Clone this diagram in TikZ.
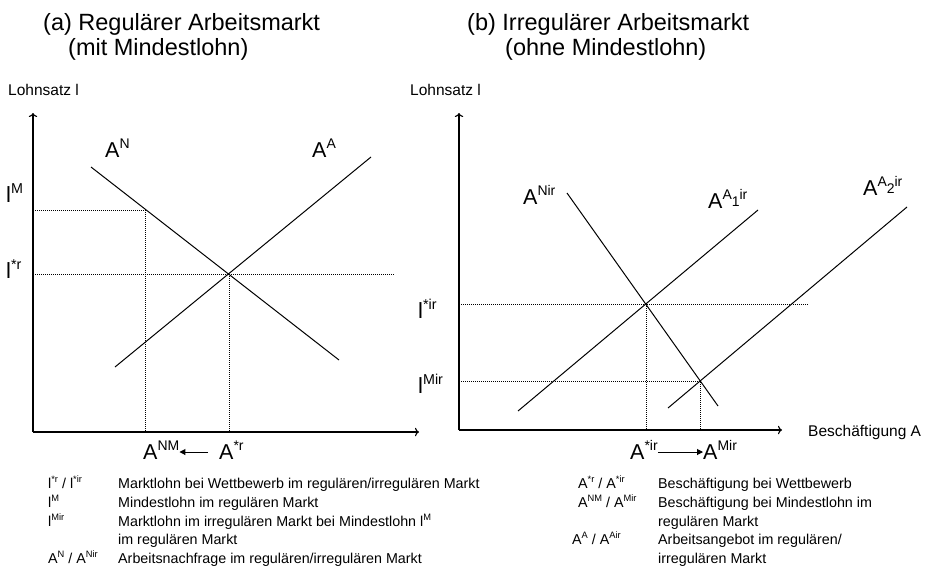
\documentclass[tikz,border=0pt]{standalone}
\usepackage{fontspec}
\setmainfont{Liberation Sans}
\usetikzlibrary{arrows.meta}

\makeatletter
\newcommand{\up}[1]{\raisebox{0.38em}{\fontsize{\fpeval{0.65*\f@size}}{\fpeval{0.75*\f@size}}\selectfont #1}}
\newcommand{\dn}[1]{\raisebox{-0.5em}{#1}}
\makeatother

\tikzset{
  axis/.style={line width=1.1pt,->},
  curve/.style={line width=1pt},
  guide/.style={line width=0.7pt,dash pattern=on 1pt off 1pt},
  movearrow/.style={line width=1pt,-{Triangle[length=6pt,width=6pt]}},
  title/.style={font=\fontsize{23.5}{27}\selectfont,inner sep=0pt,anchor=base west},
  biglabel/.style={font=\fontsize{21.5}{26}\selectfont,inner sep=0pt,anchor=base west},
  wage/.style={font=\fontsize{22}{26}\selectfont,inner sep=0pt,anchor=base west},
  axlabel/.style={font=\fontsize{15.5}{18}\selectfont,inner sep=0pt,anchor=west},
  legend/.style={font=\fontsize{14.3}{17}\selectfont,inner sep=0pt,anchor=base west}
}

\begin{document}
\begin{tikzpicture}[x=1pt,y=-1pt]
\useasboundingbox (0,0) rectangle (931,576);

% Titles
\node[title] (ta1) at (43,30) {(a) Regulärer Arbeitsmarkt};
\node[title] (ta2) at (68,55) {(mit Mindestlohn)};
\node[title] (tb1) at (467,30) {(b) Irregulärer Arbeitsmarkt};
\node[title] (tb2) at (505,55) {(ohne Mindestlohn)};

% ---------- (a) regular market ----------
\coordinate (Oa) at (33,432);
\coordinate (Ya) at (33,113);
\coordinate (Xa) at (419,432);
\draw[axis] (Oa) -- (Ya);
\draw[axis] (Oa) -- (Xa);
\node[axlabel] (lya) at (8,90) {Lohnsatz l};

% demand and supply
\coordinate (Na1) at (91,167);
\coordinate (Na2) at (339,360);
\coordinate (Sa1) at (115,367);
\coordinate (Sa2) at (371,157);
\draw[curve] (Na1) -- (Na2);
\draw[curve] (Sa1) -- (Sa2);

% equilibrium and minimum wage
\coordinate (Ea) at (229,274);
\coordinate (Ma) at (145,210);
\draw[guide] (Oa |- Ea) -- (Ea) -- (395,274);
\draw[guide] (Ea) -- (Ea |- Oa);
\draw[guide] (Oa |- Ma) -- (Ma) -- (Ma |- Oa);

\node[biglabel] (an) at (105,157) {A\up{N}};
\node[biglabel] (aa) at (312,157) {A\up{A}};
\node[wage] (lm) at (6,202) {l\up{M}};
\node[wage] (lr) at (6,278) {l\up{*r}};
\node[biglabel] (anm) at (143,459) {A\up{NM}};
\node[biglabel] (ar) at (219,459) {A\up{*r}};
\draw[movearrow] (ar.west |- 0,452) ++(-11,0) coordinate (sa) -- (anm.east |- sa);

% ---------- (b) irregular market ----------
\coordinate (Ob) at (459,430);
\coordinate (Yb) at (459,113);
\coordinate (Xb) at (782,430);
\draw[axis] (Ob) -- (Yb);
\draw[axis] (Ob) -- (Xb);
\node[axlabel] (lyb) at (410,90) {Lohnsatz l};
\node[axlabel] (lxb) at (808,432) {Beschäftigung A};

% demand and two supply curves
\coordinate (Nb1) at (567,193);
\coordinate (Nb2) at (718,406);
\coordinate (Sb1) at (518,411);
\coordinate (Sb2) at (758,210);
\coordinate (Tb1) at (668,408);
\coordinate (Tb2) at (907,207);
\draw[curve] (Nb1) -- (Nb2);
\draw[curve] (Sb1) -- (Sb2);
\draw[curve] (Tb1) -- (Tb2);

% equilibria
\coordinate (Eb) at (646,304);
\coordinate (Mb) at (700,381);
\draw[guide] (Ob |- Eb) -- (Eb) -- (808,304);
\draw[guide] (Eb) -- (Eb |- Ob);
\draw[guide] (Ob |- Mb) -- (Mb) -- (Mb |- Ob);

\node[biglabel] (anir) at (523,204) {A\up{Nir}};
\node[biglabel] (aa1) at (708,208) {A\up{A\dn{1}ir}};
\node[biglabel] (aa2) at (863,195) {A\up{A\dn{2}ir}};
\node[wage] (lir) at (418,318) {l\up{*ir}};
\node[wage] (lmir) at (418,393) {l\up{Mir}};
\node[biglabel] (air) at (630,459) {A\up{*ir}};
\node[biglabel] (amir) at (703,459) {A\up{Mir}};
\draw[movearrow] (air.east |- 0,452) coordinate (sb) -- (amir.west |- sb);

% ---------- legend ----------
\node[legend] (k1) at (48,488) {l\up{*r} / l\up{*ir}};
\node[legend] (d1) at (118,488) {Marktlohn bei Wettbewerb im regulären/irregulären Markt};
\node[legend] (k2) at (48,507) {l\up{M}};
\node[legend] (d2) at (118,507) {Mindestlohn im regulären Markt};
\node[legend] (k3) at (48,526) {l\up{Mir}};
\node[legend] (d3) at (118,526) {Marktlohn im irregulären Markt bei Mindestlohn l\up{M}};
\node[legend] (d3b) at (118,544) {im regulären Markt};
\node[legend] (k4) at (48,563) {A\up{N} / A\up{Nir}};
\node[legend] (d4) at (118,563) {Arbeitsnachfrage im regulären/irregulären Markt};

\node[legend] (k5) at (578,488) {A\up{*r} / A\up{*ir}};
\node[legend] (d5) at (658,488) {Beschäftigung bei Wettbewerb};
\node[legend] (k6) at (578,507) {A\up{NM} / A\up{Mir}};
\node[legend] (d6) at (658,507) {Beschäftigung bei Mindestlohn im};
\node[legend] (d6b) at (658,526) {regulären Markt};
\node[legend] (k7) at (572,544) {A\up{A} / A\up{Air}};
\node[legend] (d7) at (658,544) {Arbeitsangebot im regulären/};
\node[legend] (d7b) at (658,563) {irregulären Markt};

\end{tikzpicture}
\end{document}
